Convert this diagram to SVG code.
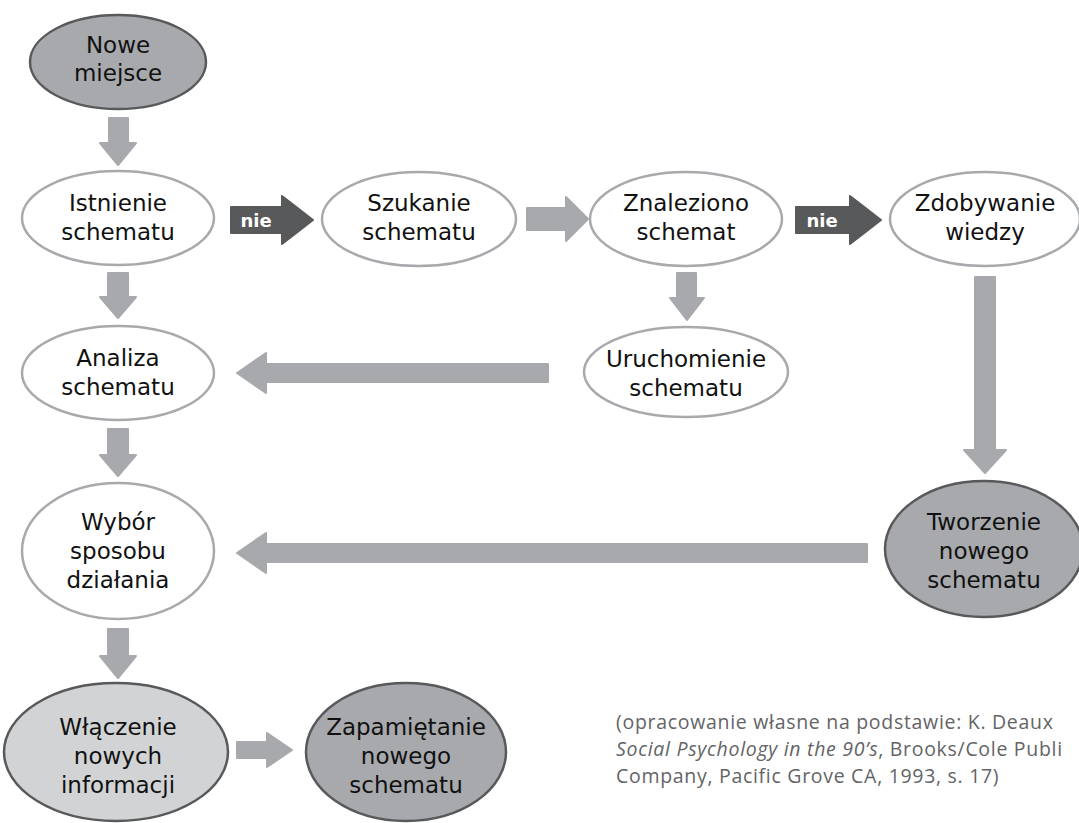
<svg xmlns="http://www.w3.org/2000/svg" width="1079" height="823" viewBox="0 0 1079 823">
<style>
.bg{fill:#ffffff}
.nw{fill:#ffffff;stroke:#a7a9ac;stroke-width:2.5}
.nd{fill:#a7a9ac;stroke:#58595b;stroke-width:2.5}
.nl{fill:#d1d3d4;stroke:#58595b;stroke-width:2.5}
.t{font-family:"DejaVu Sans",sans-serif;font-size:23px;fill:#111111;text-anchor:middle}
.al{fill:#a7a9ac;stroke:#a7a9ac;stroke-width:2;stroke-linejoin:round}
.ad{fill:#58595b;stroke:#58595b;stroke-width:2;stroke-linejoin:round}
.nie{font-family:"DejaVu Sans",sans-serif;font-size:18px;font-weight:bold;fill:#ffffff;text-anchor:middle}
.c{font-family:"Open Sans","Noto Sans",sans-serif;font-size:19.5px;letter-spacing:0.7px;fill:#636466}
</style>
<rect class="bg" x="0" y="0" width="1079" height="823"/>
<g id="connectors">
<path class="al" d="M109 118H128V143H136L118 165L100 143H109Z"/>
<path class="al" d="M108 273H128V297H136L118 318L100 297H108Z"/>
<path class="al" d="M108 429H128V455H136L118 476L100 455H108Z"/>
<path class="al" d="M108 629H128V656H136L118 678L100 656H108Z"/>
<path class="al" d="M677 273H696V298H704L687 320L670 298H677Z"/>
<path class="al" d="M975 277H995V450H1006L985 473L964 450H975Z"/>
<path class="al" d="M527 208H566V197L588 219L566 241V230H527Z"/>
<path class="al" d="M237 742H267V733L292 750L267 767V758H237Z"/>
<path class="al" d="M548 364H266V353L237 373L266 393V382H548Z"/>
<path class="al" d="M867 544H266V533L237 553L266 573V562H867Z"/>
<g id="nie1"><path class="ad" d="M231 207H282V196L313 220L282 244V233H231Z"/><text class="nie" x="256" y="227">nie</text></g>
<g id="nie2"><path class="ad" d="M796 207H850V196L881 220L850 244V233H796Z"/><text class="nie" x="822" y="227">nie</text></g>
</g>
<g id="nowe"><ellipse class="nd" cx="118" cy="62" rx="88" ry="47"/><text class="t" x="118" y="53">Nowe</text><text class="t" x="118" y="81">miejsce</text></g>
<g id="istnienie"><ellipse class="nw" cx="118" cy="218" rx="96" ry="47"/><text class="t" x="118" y="211">Istnienie</text><text class="t" x="118" y="240">schematu</text></g>
<g id="szukanie"><ellipse class="nw" cx="419" cy="219" rx="97" ry="47"/><text class="t" x="419" y="211">Szukanie</text><text class="t" x="419" y="240">schematu</text></g>
<g id="znaleziono"><ellipse class="nw" cx="686" cy="219" rx="96" ry="47"/><text class="t" x="686" y="211">Znaleziono</text><text class="t" x="686" y="240">schemat</text></g>
<g id="zdobywanie"><ellipse class="nw" cx="985" cy="219" rx="95" ry="47"/><text class="t" x="985" y="211">Zdobywanie</text><text class="t" x="985" y="240">wiedzy</text></g>
<g id="uruchomienie"><ellipse class="nw" cx="686" cy="372" rx="102" ry="45"/><text class="t" x="686" y="367">Uruchomienie</text><text class="t" x="686" y="396">schematu</text></g>
<g id="analiza"><ellipse class="nw" cx="118" cy="373" rx="96" ry="47"/><text class="t" x="118" y="366">Analiza</text><text class="t" x="118" y="395">schematu</text></g>
<g id="wybor"><ellipse class="nw" cx="118" cy="551" rx="96" ry="68"/><text class="t" x="118" y="530">Wybór</text><text class="t" x="118" y="559">sposobu</text><text class="t" x="118" y="588">działania</text></g>
<g id="tworzenie"><ellipse class="nd" cx="984" cy="549" rx="99" ry="68"/><text class="t" x="984" y="530">Tworzenie</text><text class="t" x="984" y="559">nowego</text><text class="t" x="984" y="588">schematu</text></g>
<g id="wlaczenie"><ellipse class="nl" cx="116" cy="752" rx="112" ry="69"/><text class="t" x="118" y="735">Włączenie</text><text class="t" x="118" y="764">nowych</text><text class="t" x="118" y="793">informacji</text></g>
<g id="zapamietanie"><ellipse class="nd" cx="406" cy="752" rx="100" ry="69"/><text class="t" x="406" y="735">Zapamiętanie</text><text class="t" x="406" y="764">nowego</text><text class="t" x="406" y="793">schematu</text></g>
<g id="citation">
<text class="c" x="616" y="729">(opracowanie własne na podstawie: K. Deaux</text>
<text class="c" x="616" y="756"><tspan font-style="italic">Social Psychology in the 90’s</tspan>, Brooks/Cole Publi</text>
<text class="c" x="616" y="783">Company, Pacific Grove CA, 1993, s. 17)</text>
</g>
</svg>
